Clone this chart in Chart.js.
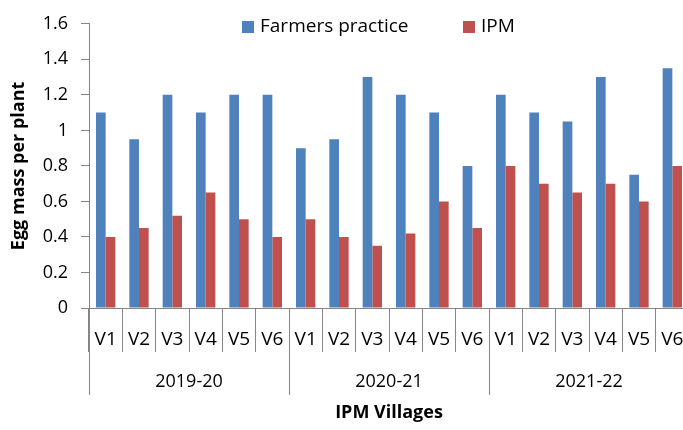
<!DOCTYPE html>
<html>
<head>
<meta charset="utf-8">
<script src="https://cdn.jsdelivr.net/npm/chart.js@4.4.0/dist/chart.umd.min.js"></script>
<style>
  html, body { margin: 0; padding: 0; background: #fff; overflow: hidden; }
  #wrap { width: 690px; height: 430px; }
</style>
</head>
<body>
<div id="wrap"><canvas id="eggChart" width="690" height="430"></canvas></div>
<script>
// Villages within each season, and the seasons themselves
const villages = ['V1', 'V2', 'V3', 'V4', 'V5', 'V6'];
const seasons = ['2019-20', '2020-21', '2021-22'];

// Egg mass per plant (season by season)
const farmersPractice = [1.1, 0.95, 1.2, 1.1, 1.2, 1.2,
                         0.9, 0.95, 1.3, 1.2, 1.1, 0.8,
                         1.2, 1.1, 1.05, 1.3, 0.75, 1.35];
const ipm = [0.4, 0.45, 0.52, 0.65, 0.5, 0.4,
             0.5, 0.4, 0.35, 0.42, 0.6, 0.45,
             0.8, 0.7, 0.65, 0.7, 0.6, 0.8];

const labels = [];
seasons.forEach(() => villages.forEach(v => labels.push(v)));

const axisGray = '#868686';
const fontFamily = '"Open Sans", "Liberation Sans", sans-serif';

// Legend drawn inside the top of the plot, like the original
const insideLegend = {
    id: 'insideLegend',
    afterDraw(chart) {
        const c = chart.ctx;
        const xs = [242, 463];
        c.save();
        c.font = '19px ' + fontFamily;
        c.textBaseline = 'middle';
        chart.data.datasets.forEach((ds, i) => {
            c.fillStyle = ds.backgroundColor;
            c.fillRect(xs[i], 21, 12, 12);
            c.fillStyle = '#000';
            c.fillText(ds.label, xs[i] + 18, 27);
        });
        c.restore();
    }
};

// Season labels and long separators under the village ticks
const seasonAxis = {
    id: 'seasonAxis',
    afterDraw(chart) {
        const c = chart.ctx;
        const xs = chart.scales.x;
        const step = xs.getPixelForValue(1) - xs.getPixelForValue(0);
        const bottom = chart.chartArea.bottom;
        c.save();
        c.strokeStyle = axisGray;
        c.lineWidth = 1;
        for (let g = 0; g <= seasons.length; g++) {
            const px = Math.round(xs.getPixelForValue(g * villages.length) - step / 2) + 0.5;
            c.beginPath();
            c.moveTo(px, bottom);
            c.lineTo(px, bottom + 87);
            c.stroke();
        }
        c.font = '18px ' + fontFamily;
        c.fillStyle = '#000';
        c.textAlign = 'center';
        c.textBaseline = 'middle';
        seasons.forEach((s, g) => {
            const a = xs.getPixelForValue(g * villages.length) - step / 2;
            const b = xs.getPixelForValue((g + 1) * villages.length) - step / 2;
            c.fillText(s, (a + b) / 2, bottom + 74);
        });
        c.restore();
    }
};

const ctx = document.getElementById('eggChart').getContext('2d');
const eggChart = new Chart(ctx, {
    type: 'bar',
    data: {
        labels: labels,
        datasets: [{
            label: 'Farmers practice',
            data: farmersPractice,
            backgroundColor: '#4F81BD'
        }, {
            label: 'IPM',
            data: ipm,
            backgroundColor: '#C0504D'
        }]
    },
    options: {
        responsive: false,
        animation: false,
        layout: { padding: { top: 17, right: 1, left: 0, bottom: 0 } },
        datasets: {
            bar: { categoryPercentage: 0.58, barPercentage: 1.0 }
        },
        plugins: {
            legend: { display: false },
            tooltip: { enabled: false }
        },
        scales: {
            x: {
                offset: true,
                afterFit: scale => { scale.height = 122; },
                border: { color: axisGray, width: 1 },
                grid: {
                    offset: true,
                    drawOnChartArea: false,
                    drawTicks: true,
                    tickLength: 44,
                    color: axisGray
                },
                ticks: {
                    color: '#000',
                    font: { family: fontFamily, size: 19 },
                    padding: -24,
                    maxRotation: 0,
                    autoSkip: false
                },
                title: {
                    display: true,
                    text: 'IPM Villages',
                    color: '#000',
                    font: { family: fontFamily, size: 18, weight: 'bold' },
                    padding: { top: 0, bottom: 6 }
                }
            },
            y: {
                min: 0,
                max: 1.6,
                afterFit: scale => { scale.width = 89; },
                border: { color: axisGray, width: 1 },
                grid: {
                    drawOnChartArea: false,
                    drawTicks: true,
                    tickLength: 8,
                    color: axisGray
                },
                ticks: {
                    stepSize: 0.2,
                    color: '#000',
                    padding: 13,
                    font: { family: fontFamily, size: 18 },
                    callback: v => Number(v.toFixed(1)).toString()
                },
                title: {
                    display: true,
                    text: 'Egg mass per plant',
                    color: '#000',
                    font: { family: fontFamily, size: 18, weight: 'bold' },
                    padding: { top: 8, bottom: 0 }
                }
            }
        }
    },
    plugins: [insideLegend, seasonAxis]
});
</script>
</body>
</html>
